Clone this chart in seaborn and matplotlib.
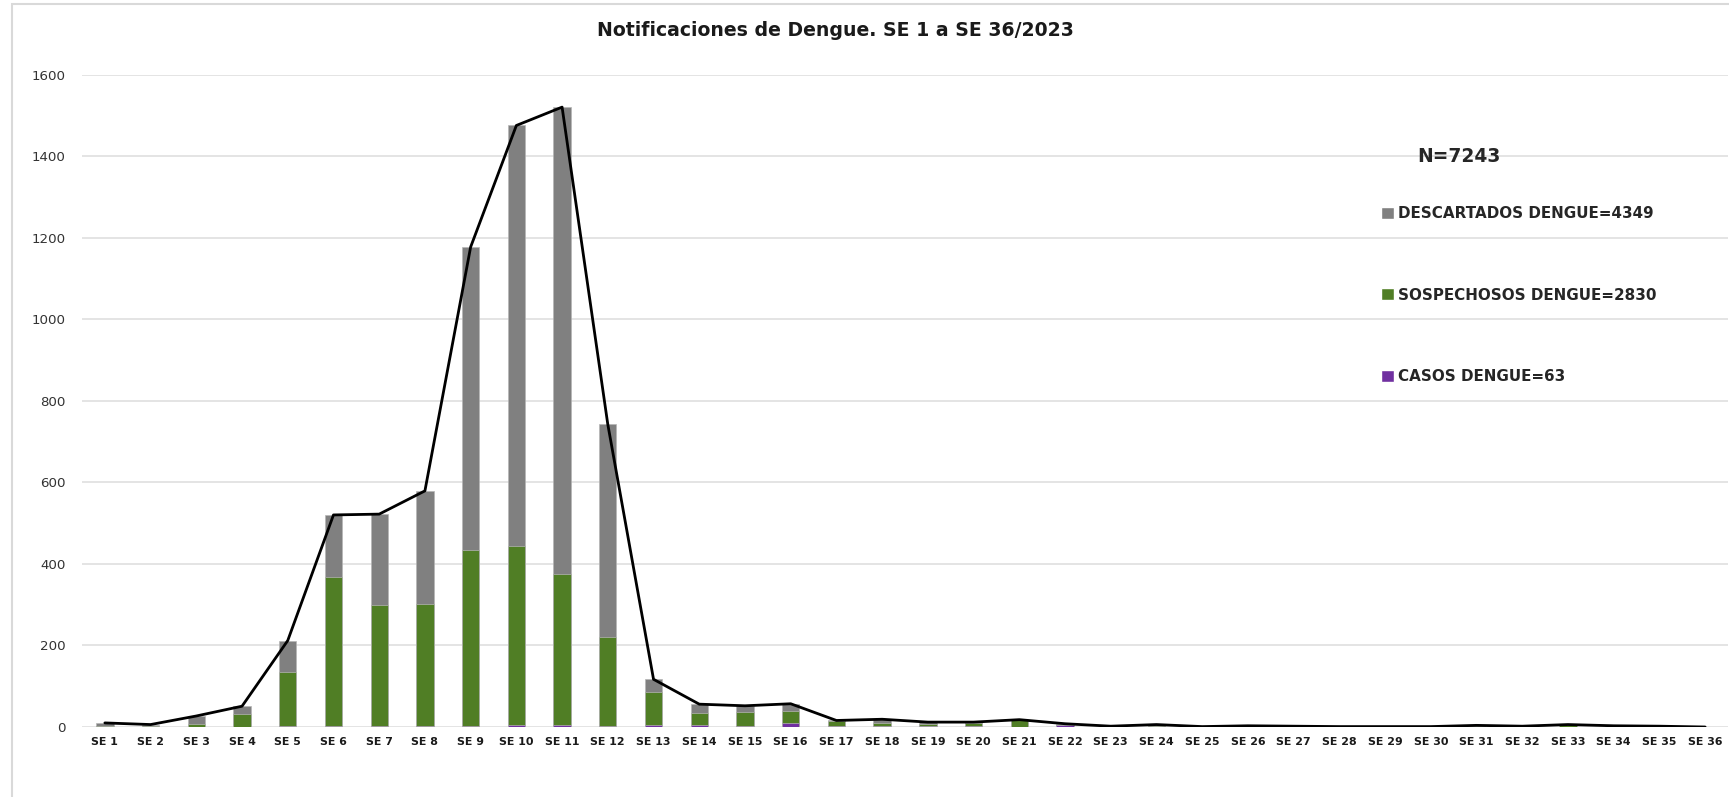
import matplotlib
matplotlib.use('Agg')
import matplotlib.pyplot as plt
import pandas as pd
import seaborn as sns
from matplotlib.patches import Patch, Rectangle

# Datos por semana epidemiologica
semanas = ['SE %d' % i for i in range(1, 37)]
casos = [0, 0, 0, 1, 2, 3, 3, 3, 3, 6, 5, 3, 4, 4, 3, 9, 2, 2,
         2, 2, 1, 5, 0, 0, 0, 0, 0, 0, 0, 0, 0, 0, 0, 0, 0, 0]
sospechosos = [2, 3, 7, 31, 132, 365, 296, 299, 431, 437, 369, 217, 82, 30, 34, 30, 13, 9,
               6, 9, 15, 0, 0, 2, 0, 1, 0, 0, 0, 0, 3, 1, 5, 1, 0, 0]
descartados = [8, 3, 20, 19, 78, 152, 223, 277, 743, 1032, 1146, 522, 31, 22, 15, 18, 1, 8,
               4, 1, 2, 3, 2, 4, 1, 2, 2, 1, 1, 1, 1, 1, 1, 2, 2, 0]

titulo = 'Notificaciones de Dengue. SE 1 a SE 36/2023'
etiquetas = ['DESCARTADOS DENGUE=4349', 'SOSPECHOSOS DENGUE=2830', 'CASOS DENGUE=63']
total_n = 'N=7243'
yticks = [0, 200, 400, 600, 800, 1000, 1200, 1400, 1600]

GRIS = '#808080'
VERDE = '#507e25'
MORADO = '#7030a0'

df = pd.DataFrame({'semana': semanas, 'casos': casos,
                   'sospechosos': sospechosos, 'descartados': descartados})
df['sosp_acum'] = df['casos'] + df['sospechosos']  # apilado: casos abajo
df['total'] = df['sosp_acum'] + df['descartados']

sns.set_theme(style='white')
plt.rcParams['font.family'] = ['DejaVu Sans']

W, H = 1729, 797
fig = plt.figure(figsize=(W / 100, H / 100), dpi=100)
ax = fig.add_axes([82 / W, 1 - 727 / H, 1646 / W, 652.5 / H])

# barras apiladas: se dibuja el acumulado de arriba hacia abajo
for col, color in [('total', GRIS), ('sosp_acum', VERDE), ('casos', MORADO)]:
    sns.barplot(data=df, x='semana', y=col, color=color, saturation=1, width=0.38,
                errorbar=None, edgecolor='#b5b5b5', linewidth=0.5, ax=ax, zorder=2)

# linea del total
sns.pointplot(data=df, x='semana', y='total', color='black', markers='',
              linewidth=2, errorbar=None, ax=ax, zorder=3)

ax.set_ylim(0, 1600)
ax.set_xlim(-0.5, len(semanas) - 0.5)
ax.set_yticks(yticks)
ax.set_xlabel('')
ax.set_ylabel('')
ax.yaxis.grid(True, color='#dcdcdc', linewidth=1.1, zorder=0)
ax.set_axisbelow(True)
for s in ax.spines.values():
    s.set_visible(False)
ax.tick_params(axis='x', length=0, pad=7, labelsize=7.9, colors='#1a1a1a')
ax.tick_params(axis='y', length=0, pad=12, labelsize=9.6, colors='#333333')
for lbl in ax.get_xticklabels():
    lbl.set_fontweight('bold')

# leyenda
handles = [Patch(facecolor=GRIS), Patch(facecolor=VERDE), Patch(facecolor=MORADO)]
fig.legend(handles, etiquetas, loc='upper left', bbox_to_anchor=(1381 / W, 1 - 206 / H),
           frameon=False, prop={'weight': 'bold', 'size': 10.9}, handlelength=0.85,
           handleheight=0.85, handletextpad=0.3, labelspacing=4.4, borderpad=0,
           borderaxespad=0)
fig.text(1417 / W, 1 - 157 / H, total_n, fontsize=13.4, fontweight='bold', va='center')

fig.text(835 / W, 1 - 30 / H, titulo, fontsize=13.6, fontweight='bold',
         ha='center', va='center', color='#1a1a1a')

# borde del area del grafico
fig.patches.append(Rectangle((12 / W, -0.05), 1.1, 1.05 - 4 / H, transform=fig.transFigure,
                             fill=False, edgecolor='#d9d9d9', linewidth=1.5))

fig.savefig('out.png', dpi=100)
